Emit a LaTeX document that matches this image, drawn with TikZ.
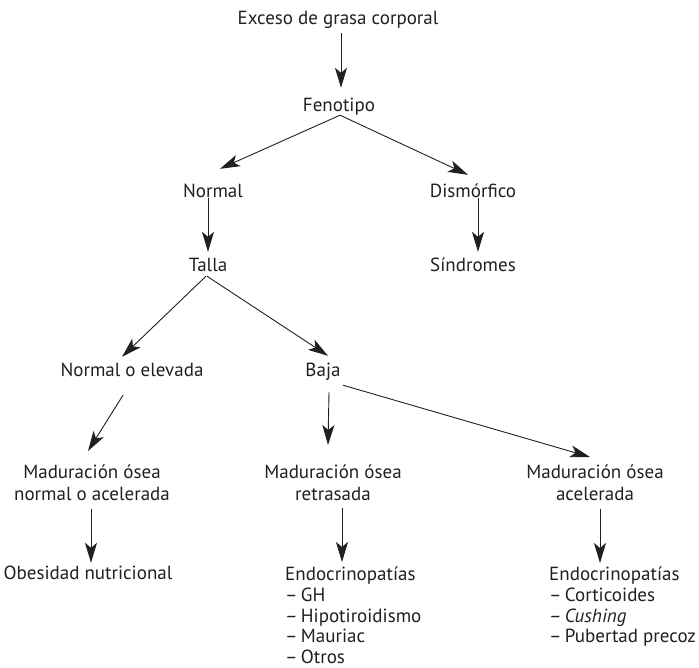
\documentclass[tikz,border=0pt]{standalone}
\usepackage{fontspec}
\setmainfont{PT Sans}
\usetikzlibrary{arrows.meta}
\definecolor{ink}{RGB}{35,31,32}

\tikzset{
    txt/.style = {
        inner sep=0pt,
        text height=12pt,
        text depth=4pt,
        text=ink,
        font=\fontsize{19}{22}\selectfont
    },
    twoline/.style = {
        inner sep=0pt,
        align=center,
        anchor=north,
        text=ink,
        font=\fontsize{19}{22}\selectfont
    },
    lst/.style = {
        inner sep=0pt,
        align=left,
        anchor=north west,
        text=ink,
        font=\fontsize{19}{20.6}\selectfont
    },
    arrow/.style = {
        draw=ink,
        line width=0.9pt,
        -{Stealth[length=20pt, width=12pt, inset=5pt]}
    }
}

\begin{document}
\begin{tikzpicture}[x=1pt, y=-1pt]
\useasboundingbox (0,0) rectangle (699,667);

\node (exceso) [txt] at (338,20) {Exceso de grasa corporal};
\node (fenotipo) [txt] at (339,107) {Fenotipo};
\node (normal) [txt] at (213,193) {Normal};
\node (dismorfico) [txt] at (473,193) {Dismórfico};
\node (talla) [txt] at (208,267) {Talla};
\node (sindromes) [txt] at (473,267) {Síndromes};
\node (normalelev) [txt] at (132,372) {Normal o elevada};
\node (baja) [txt] at (323,372) {Baja};

\node (madnorm) [twoline] at (92,465) {Maduración ósea\\normal o acelerada};
\node (madretr) [twoline] at (333,465) {Maduración ósea\\retrasada};
\node (madacel) [twoline] at (595,465) {Maduración ósea\\acelerada};

\node (obesidad) [txt] at (88,575) {Obesidad nutricional};
\node (endoretr) [lst] at (285,567) {Endocrinopatías\\–\,GH\\–\,Hipotiroidismo\\–\,Mauriac\\–\,Otros};
\node (endoacel) [lst] at (549,567) {Endocrinopatías\\–\,Corticoides\\–\,\textit{Cushing}\\–\,Pubertad precoz};

% Arrows
\draw [arrow] ([shift={(3,5)}]exceso.south) -- ([shift={(2,-11)}]fenotipo.north);
\draw [arrow] ([shift={(1,0)}]fenotipo.south) -- ([shift={(7,-16)}]normal.north);
\draw [arrow] ([shift={(1,0)}]fenotipo.south) -- ([shift={(-5,-10)}]dismorfico.north);
\draw [arrow] ([shift={(-5,-3)}]normal.south) -- ([shift={(0,-7)}]talla.north);
\draw [arrow] ([shift={(5,-3)}]dismorfico.south) -- ([shift={(5,-7)}]sindromes.north);
\draw [arrow] ([shift={(-2,1)}]talla.south) -- ([shift={(-10,-7)}]normalelev.north);
\draw [arrow] ([shift={(-1,1)}]talla.south) -- ([shift={(5,-8)}]baja.north);
\draw [arrow] ([shift={(-9,15)}]normalelev.south) -- ([shift={(-4,-14)}]madnorm.north);
\draw [arrow] ([shift={(6,12)}]baja.south) -- ([shift={(-5,-20)}]madretr.north);
\draw [arrow] ([shift={(20,5)}]baja.south) -- ([shift={(-5,-8)}]madacel.north);
\draw [arrow] ([shift={(-1,8)}]madnorm.south) -- ([shift={(3,-4)}]obesidad.north);
\draw [arrow] ([shift={(9,7)}]madretr.south) -- ([shift={(57,-5)}]endoretr.north west);
\draw [arrow] ([shift={(5,8)}]madacel.south) -- ([shift={(51,-4)}]endoacel.north west);

\end{tikzpicture}
\end{document}
